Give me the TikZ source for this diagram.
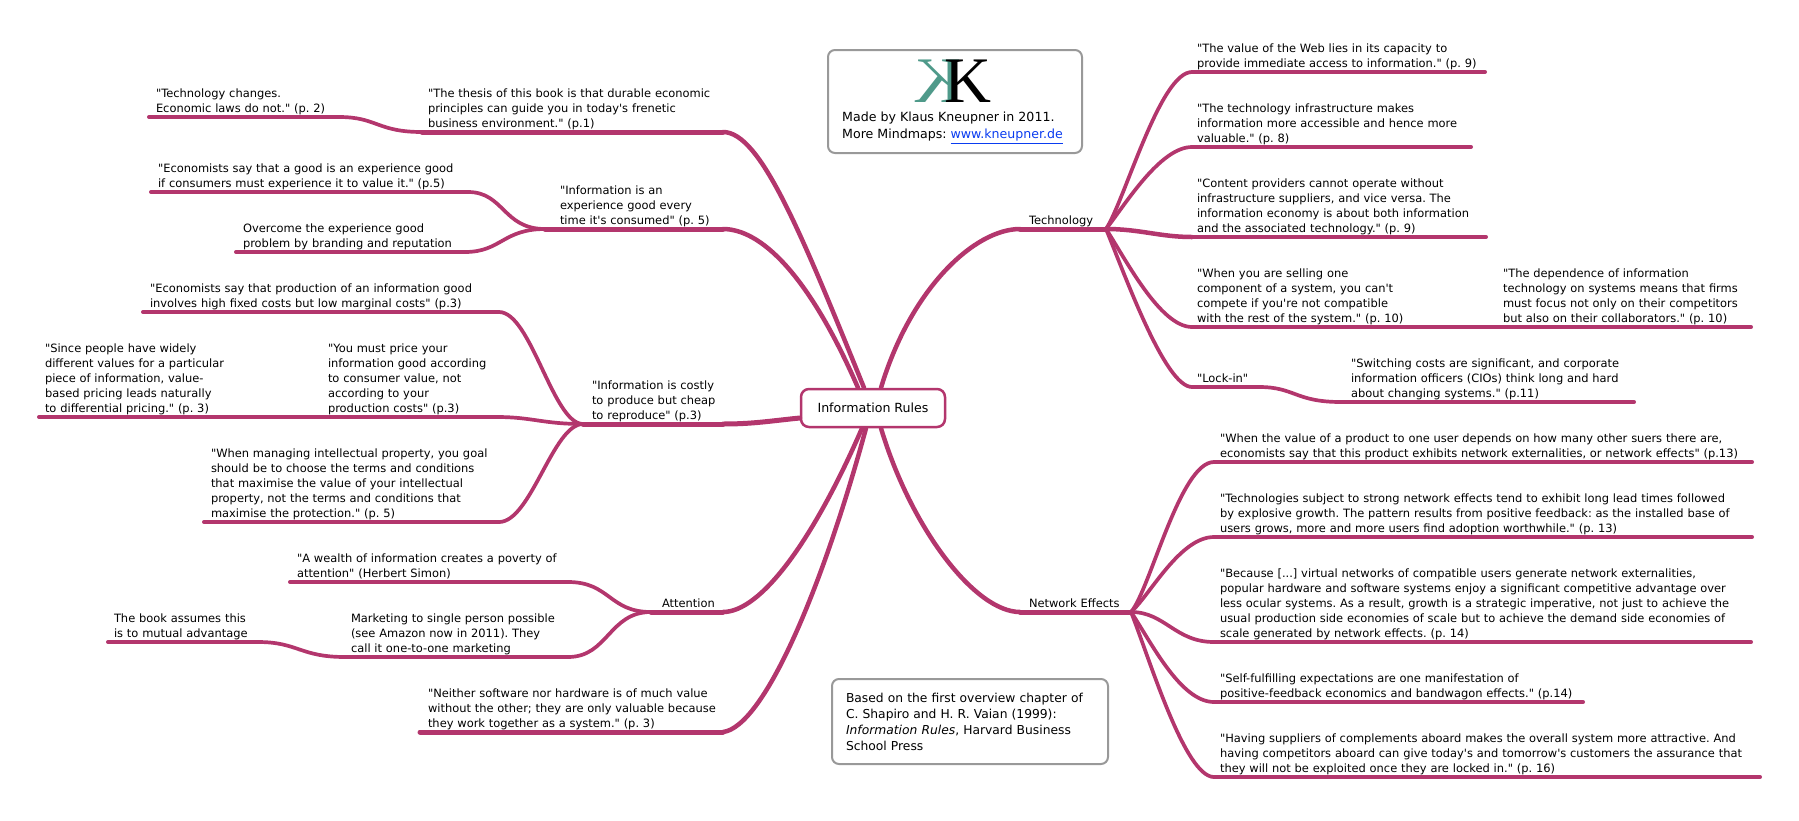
\documentclass[tikz,border=0pt]{standalone}
\usepackage{fontspec}
\usepackage{xcolor}
\usetikzlibrary{positioning}
\newfontfamily\mapfont{DejaVu Sans}
\newfontfamily\logofont{Liberation Serif}
\definecolor{branchcol}{HTML}{B3366D}
\definecolor{boxgrey}{HTML}{999999}
\definecolor{logoteal}{HTML}{4F9A8A}
\definecolor{linkblue}{HTML}{0A3CF0}
\tikzset{
	topic/.style={anchor=south west,inner xsep=0pt,inner ysep=0.5pt,outer sep=0pt,align=left,
		font=\mapfont\fontsize{11.45}{15}\selectfont\frenchspacing,execute at end node=\strut},
	branch/.style={draw=branchcol,line width=4pt,line cap=round},
	bough/.style={draw=branchcol,line width=5pt,line cap=round},
	twig/.style={draw=branchcol,line width=3.7pt,line cap=round},
	limb/.style={draw=branchcol,line width=4.5pt,line cap=round},
	notebox/.style={draw=boxgrey,line width=2pt,rounded corners=7pt,fill=white,anchor=north west},
	logok/.style={anchor=base,inner sep=0pt,font=\logofont\fontsize{65}{65}\selectfont}
}
\begin{document}
\begin{tikzpicture}[x=1pt,y=-1pt]
	\useasboundingbox (0,0) rectangle (1799,820);
	\node[draw=branchcol,line width=2.5pt,rounded corners=8pt,fill=white,minimum width=144pt,minimum height=38pt,
		font=\mapfont\fontsize{12.6}{15}\selectfont] (core) at (873,408) {Information Rules};
	% left half
	\node[topic,text width=183pt] (changes) at (156,117) {"Technology changes.\\Economic laws do not." (p. 2)};
	\node[topic,text width=295pt] (thesis) at (428,132) {"The thesis of this book is that durable economic\\principles can guide you in today's frenetic\\business environment." (p.1)};
	\node[topic,text width=310pt] (goodquote) at (158,192) {"Economists say that a good is an experience good\\if consumers must experience it to value it." (p.5)};
	\node[topic,text width=222pt] (overcome) at (243,252) {Overcome the experience good\\problem by branding and reputation};
	\node[topic,text width=163pt] (experience) at (560,229) {"Information is an\\experience good every\\time it's consumed" (p. 5)};
	\node[topic,text width=349pt] (fixedcost) at (150,312) {"Economists say that production of an information good\\involves high fixed costs but low marginal costs" (p.3)};
	\node[topic,text width=277pt] (differ) at (45,417) {"Since people have widely\\different values for a particular\\piece of information, value-\\based pricing leads naturally\\to differential pricing." (p. 3)};
	\node[topic,text width=169pt] (price) at (328,417) {"You must price your\\information good according\\to consumer value, not\\according to your\\production costs" (p.3)};
	\node[topic,text width=131pt] (costly) at (592,424) {"Information is costly\\to produce but cheap\\to reproduce" (p.3)};
	\node[topic,text width=288pt] (property) at (211,522) {"When managing intellectual property, you goal\\should be to choose the terms and conditions\\that maximise the value of your intellectual\\property, not the terms and conditions that\\maximise the protection." (p. 5)};
	\node[topic,text width=271pt] (wealth) at (297,582) {"A wealth of information creates a poverty of\\attention" (Herbert Simon)};
	\node[topic,text width=61pt] (attention) at (662,612) {Attention};
	\node[topic,text width=217pt] (marketing) at (351,657) {Marketing to single person possible\\(see Amazon now in 2011). They\\call it one-to-one marketing};
	\node[topic,text width=144pt] (mutual) at (114,642) {The book assumes this\\is to mutual advantage};
	\node[topic,text width=295pt] (neither) at (428,732) {"Neither software nor hardware is of much value\\without the other; they are only valuable because\\they work together as a system." (p. 3)};
	% right half
	\node[topic,text width=77pt] (technology) at (1029,229) {Technology};
	\node[topic,text width=288pt] (webvalue) at (1197,72) {"The value of the Web lies in its capacity to\\provide immediate access to information." (p. 9)};
	\node[topic,text width=274pt] (infra) at (1197,147) {"The technology infrastructure makes\\information more accessible and hence more\\valuable." (p. 8)};
	\node[topic,text width=289pt] (content) at (1197,237) {"Content providers cannot operate without\\infrastructure suppliers, and vice versa. The\\information economy is about both information\\and the associated technology." (p. 9)};
	\node[topic,text width=211pt] (selling) at (1197,327) {"When you are selling one\\component of a system, you can't\\compete if you're not compatible\\with the rest of the system." (p. 10)};
	\node[topic,text width=248pt] (depend) at (1503,327) {"The dependence of information\\technology on systems means that firms\\must focus not only on their competitors\\but also on their collaborators." (p. 10)};
	\node[topic,text width=62pt] (lockin) at (1197,387) {"Lock-in"};
	\node[topic,text width=283pt] (switching) at (1351,402) {"Switching costs are significant, and corporate\\information officers (CIOs) think long and hard\\about changing systems." (p.11)};
	\node[topic,text width=102pt] (network) at (1029,612) {Network Effects};
	\node[topic,text width=532pt] (extern) at (1220,462) {"When the value of a product to one user depends on how many other suers there are,\\economists say that this product exhibits network externalities, or network effects" (p.13)};
	\node[topic,text width=532pt] (leadtime) at (1220,537) {"Technologies subject to strong network effects tend to exhibit long lead times followed\\by explosive growth. The pattern results from positive feedback: as the installed base of\\users grows, more and more users find adoption worthwhile." (p. 13)};
	\node[topic,text width=531pt] (because) at (1220,642) {"Because [...] virtual networks of compatible users generate network externalities,\\popular hardware and software systems enjoy a significant competitive advantage over\\less ocular systems. As a result, growth is a strategic imperative, not just to achieve the\\usual production side economies of scale but to achieve the demand side economies of\\scale generated by network effects. (p. 14)};
	\node[topic,text width=363pt] (selffull) at (1220,702) {"Self-fulfilling expectations are one manifestation of\\positive-feedback economics and bandwagon effects." (p.14)};
	\node[topic,text width=540pt] (aboard) at (1220,777) {"Having suppliers of complements aboard makes the overall system more attractive. And\\having competitors aboard can give today's and tomorrow's customers the assurance that\\they will not be exploited once they are locked in." (p. 16)};
	% underlines
	\foreach \nm/\off in {changes/7,goodquote/7,overcome/7,fixedcost/7,differ/6,price/6,property/7,wealth/7,marketing/6,mutual/6,webvalue/5,infra/5,content/5,selling/5,depend/6,lockin/5,switching/10,extern/6,leadtime/6,because/6,selffull/6,aboard/6}
		\draw[branch] ([xshift=-\off pt]\nm.south west) -- (\nm.south east);
	\foreach \nm/\off in {thesis/6,experience/15,costly/9,attention/11,neither/8,technology/9,network/9}
		\draw[bough] ([xshift=-\off pt]\nm.south west) -- (\nm.south east);
	% connectors
	\draw[twig] (changes.south east) .. controls +(38,0) and +(-45,0) .. ([xshift=-6pt]thesis.south west);
	\draw[twig] (goodquote.south east) .. controls +(36,0) and +(-42,0) .. ([xshift=-15pt]experience.south west);
	\draw[twig] (overcome.south east) .. controls +(36,0) and +(-42,0) .. ([xshift=-15pt]experience.south west);
	\draw[twig] (fixedcost.south east) .. controls +(32,0) and +(-30,0) .. ([xshift=-9pt]costly.south west);
	\draw[twig] (price.south east) .. controls +(35,0) and +(-40,0) .. ([xshift=-9pt]costly.south west);
	\draw[twig] (property.south east) .. controls +(32,0) and +(-30,0) .. ([xshift=-9pt]costly.south west);
	\draw[twig] (wealth.south east) .. controls +(42,0) and +(-42,0) .. ([xshift=-11pt]attention.south west);
	\draw[twig] (marketing.south east) .. controls +(40,0) and +(-42,0) .. ([xshift=-11pt]attention.south west);
	\draw[twig] (mutual.south east) .. controls +(40,0) and +(-45,0) .. ([xshift=-6pt]marketing.south west);
	\draw[limb] (thesis.south east) .. controls +(37,0) and +(-64,-158) .. ([xshift=-9pt]core.north);
	\draw[limb] (experience.south east) .. controls +(37,0) and +(-50,-115) .. ([xshift=-15pt]core.north);
	\draw[bough] (costly.south east) .. controls +(30,0) and +(-30,3) .. ([yshift=-10pt]core.west);
	\draw[limb] (attention.south east) .. controls +(37,0) and +(-50,115) .. ([xshift=-11pt]core.south);
	\draw[limb] (neither.south east) .. controls +(40,-5) and +(-45,165) .. ([xshift=-7pt]core.south);
	\draw[limb] ([xshift=8pt]core.north) .. controls +(30,-100) and +(-45,0) .. ([xshift=-9pt]technology.south west);
	\draw[limb] ([xshift=8pt]core.south) .. controls +(30,100) and +(-45,0) .. ([xshift=-9pt]network.south west);
	\draw[twig] (technology.south east) .. controls +(19,-29) and +(-32,0) .. ([xshift=-5pt]webvalue.south west);
	\draw[twig] (technology.south east) .. controls +(19,-24) and +(-32,0) .. ([xshift=-5pt]infra.south west);
	\draw[limb] (technology.south east) .. controls +(34,0) and +(-32,0) .. ([xshift=-5pt]content.south west);
	\draw[twig] (technology.south east) .. controls +(19,29) and +(-32,0) .. ([xshift=-5pt]selling.south west);
	\draw[twig] (technology.south east) .. controls +(19,46) and +(-27,0) .. ([xshift=-5pt]lockin.south west);
	\draw[branch] (selling.south east) -- (depend.south west);
	\draw[twig] (lockin.south east) .. controls +(36,0) and +(-46,0) .. ([xshift=-10pt]switching.south west);
	\draw[twig] (network.south east) .. controls +(19,-22) and +(-34,0) .. ([xshift=-6pt]extern.south west);
	\draw[twig] (network.south east) .. controls +(19,-17) and +(-34,0) .. ([xshift=-6pt]leadtime.south west);
	\draw[twig] (network.south east) .. controls +(34,0) and +(-39,0) .. ([xshift=-6pt]because.south west);
	\draw[twig] (network.south east) .. controls +(19,28) and +(-34,0) .. ([xshift=-6pt]selffull.south west);
	\draw[twig] (network.south east) .. controls +(19,48) and +(-29,0) .. ([xshift=-6pt]aboard.south west);
	% side notes
	\node[notebox,minimum width=254pt,minimum height=103pt] (madebox) at (827,49) {};
	\node[logok,text=logoteal] (logoleft) at (938,102) {\reflectbox{K}};
	\node[logok,text=black] (logoright) at (968,102) {K};
	\node[anchor=north west,inner sep=0pt,align=left,font=\mapfont\fontsize{12.6}{17}\selectfont\frenchspacing] (madetext) at (842,112) {Made by Klaus Kneupner in 2011.\\More Mindmaps: \textcolor{linkblue}{\underline{www.kneupner.de}}};
	\node[notebox,minimum width=276pt,minimum height=85pt,inner xsep=14pt,text width=248pt,align=left,
		font=\mapfont\fontsize{12.3}{16}\selectfont\frenchspacing] (basedbox) at (831,678) {Based on the first overview chapter of\\C. Shapiro and H. R. Vaian (1999):\\\textit{Information Rules}, Harvard Business\\School Press};
\end{tikzpicture}
\end{document}
